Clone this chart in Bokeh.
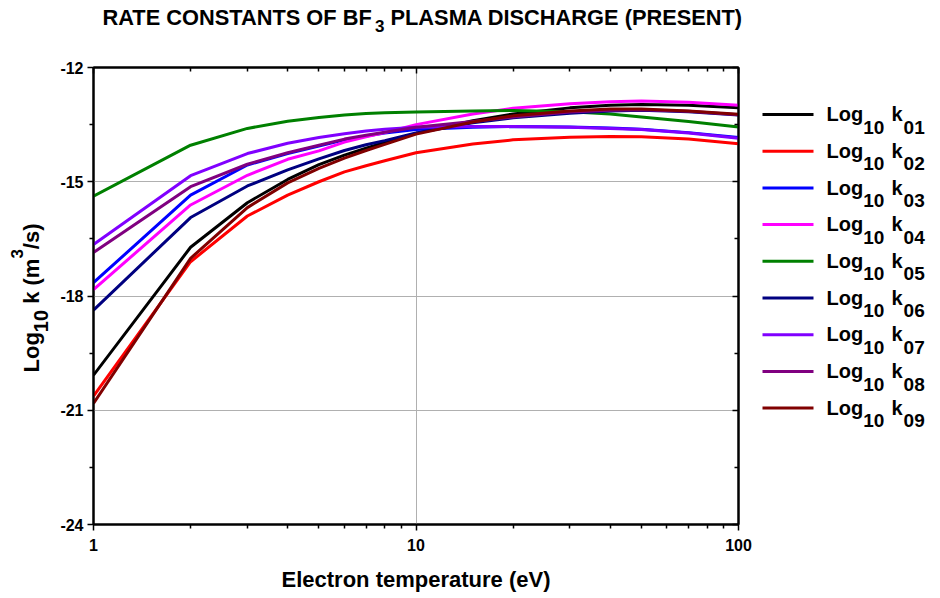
import math
from bokeh.plotting import figure
from bokeh.models import FixedTicker, LogAxis, LinearAxis, Range1d
from bokeh.layouts import column, row
from bokeh.core.properties import value
from bokeh.embed import file_html
from bokeh.resources import INLINE

# ---------------- data ----------------
electron_temperature = [1, 2, 3, 4, 5, 6, 7, 8, 10, 15, 20, 30, 40, 50, 70, 100]

log_k01 = [-20.08, -16.72, -15.55, -14.94, -14.55, -14.30, -14.12, -13.97, -13.73, -13.40, -13.22, -13.06, -12.99, -12.97, -12.99, -13.06]
log_k02 = [-20.63, -17.10, -15.90, -15.35, -15.00, -14.74, -14.58, -14.45, -14.24, -14.01, -13.90, -13.83, -13.81, -13.82, -13.88, -14.00]
log_k03 = [-17.65, -15.35, -14.56, -14.26, -14.06, -13.90, -13.80, -13.72, -13.63, -13.57, -13.55, -13.56, -13.59, -13.62, -13.71, -13.84]
log_k04 = [-17.83, -15.61, -14.83, -14.41, -14.19, -13.96, -13.82, -13.71, -13.50, -13.22, -13.07, -12.95, -12.90, -12.88, -12.91, -12.99]
log_k05 = [-15.38, -14.04, -13.60, -13.41, -13.31, -13.25, -13.21, -13.19, -13.17, -13.14, -13.13, -13.16, -13.22, -13.30, -13.42, -13.56]
log_k06 = [-18.37, -15.94, -15.11, -14.69, -14.40, -14.18, -14.03, -13.92, -13.72, -13.45, -13.32, -13.20, -13.14, -13.12, -13.16, -13.25]
log_k07 = [-16.65, -14.84, -14.26, -13.99, -13.84, -13.74, -13.67, -13.62, -13.57, -13.55, -13.55, -13.57, -13.60, -13.63, -13.72, -13.86]
log_k08 = [-16.86, -15.13, -14.54, -14.24, -14.04, -13.88, -13.78, -13.70, -13.57, -13.42, -13.30, -13.17, -13.12, -13.11, -13.15, -13.24]
log_k09 = [-20.82, -17.01, -15.68, -15.03, -14.65, -14.38, -14.18, -14.02, -13.75, -13.43, -13.27, -13.14, -13.09, -13.09, -13.14, -13.23]

series_ids = ["01", "02", "03", "04", "05", "06", "07", "08", "09"]
series_values = [log_k01, log_k02, log_k03, log_k04, log_k05, log_k06, log_k07, log_k08, log_k09]
series_colors = ["#000000", "#ff0000", "#0000ff", "#ff00ff", "#008000",
                 "#000080", "#8000ff", "#800080", "#800000"]

x_ticks = [1, 10, 100]
x_tick_labels = ["1", "10", "100"]
x_minor_ticks = [2, 3, 4, 5, 6, 7, 8, 9, 20, 30, 40, 50, 60, 70, 80, 90]
y_ticks = [-24, -21, -18, -15, -12]
y_tick_labels = ["-24", "-21", "-18", "-15", "-12"]
y_minor_ticks = [-22.5, -19.5, -16.5, -13.5]

# ---------------- layout (canvas px) ----------------
W, H = 940, 598
TITLE_H = 40          # title strip height
YLAB_W = 50           # y-label strip width
LEG_W = 182           # legend strip width
FL, FT, FR, FB = 93, 67, 738, 524   # chart frame edges on the page
FONT = "Liberation Sans"
BODY_H = H - TITLE_H
MAIN_W = W - YLAB_W - LEG_W
BT, BB = FT - TITLE_H, H - FB        # top / bottom borders shared by the row
MID = 0.35                           # baseline -> text-centre offset (em)


def strip(w, h, xr, yr, bt=0, bb=0):
    f = figure(width=w, height=h, x_range=Range1d(*xr), y_range=Range1d(*yr),
               x_axis_location=None, y_axis_location=None,
               output_backend="svg", toolbar_location=None,
               min_border_left=0, min_border_right=0, min_border_top=bt, min_border_bottom=bb)
    f.outline_line_color = None
    f.grid.visible = False
    f.background_fill_color = "white"
    f.border_fill_color = "white"
    return f


def put(f, txt, x, y, size):
    """horizontal text; (x, y) = start of the baseline in page px"""
    f.text(x=[x], y=[y - MID * size], text=[txt], text_font=value(FONT),
           text_font_style="bold", text_font_size=f"{size}px", text_color="black",
           text_align="left", text_baseline="middle")


def put_up(f, txt, x, y, size):
    """text rotated to read upwards; x = baseline column, y = start"""
    f.text(x=[x - MID * size], y=[y], text=[txt], angle=math.pi / 2, text_font=value(FONT),
           text_font_style="bold", text_font_size=f"{size}px", text_color="black",
           text_align="left", text_baseline="middle")


# ---------------- main chart ----------------
p = figure(width=MAIN_W, height=BODY_H, x_axis_type="log", x_range=(1, 100), y_range=(-24, -12),
           output_backend="svg", toolbar_location=None,
           min_border_left=FL - YLAB_W, min_border_right=W - LEG_W - FR,
           min_border_top=BT, min_border_bottom=BB)
p.background_fill_color = "white"
p.border_fill_color = "white"
p.outline_line_color = "black"
p.outline_line_width = 2

for ax in (p.xaxis[0], p.yaxis[0]):
    ax.axis_line_width = 2
    ax.axis_line_color = "black"
    ax.major_tick_line_width = 1.5
    ax.minor_tick_line_width = 1.5
    ax.major_tick_out = 6
    ax.major_tick_in = 0
    ax.minor_tick_out = 4
    ax.minor_tick_in = 0
    ax.major_label_text_font = FONT
    ax.major_label_text_font_style = "bold"
    ax.major_label_text_font_size = "16px"
    ax.major_label_text_color = "black"

p.xaxis.ticker = FixedTicker(ticks=x_ticks, minor_ticks=x_minor_ticks)
p.xaxis.major_label_overrides = {t: l for t, l in zip(x_ticks, x_tick_labels)}
p.xaxis.major_label_standoff = 8
p.xaxis.axis_label = "Electron temperature (eV)"
p.xaxis.axis_label_text_font = FONT
p.xaxis.axis_label_text_font_style = "bold"
p.xaxis.axis_label_text_font_size = "22px"
p.xaxis.axis_label_text_color = "black"
p.xaxis.axis_label_standoff = 13

p.yaxis.ticker = FixedTicker(ticks=y_ticks, minor_ticks=y_minor_ticks)
p.yaxis.major_label_overrides = {t: l for t, l in zip(y_ticks, y_tick_labels)}
p.yaxis.major_label_standoff = 4

# mirrored axes with inward ticks (labels not drawn)
top_ax = LogAxis(ticker=FixedTicker(ticks=x_ticks, minor_ticks=x_minor_ticks),
                 major_label_text_color=None, major_label_text_font_size="2px",
                 major_label_standoff=0,
                 major_tick_in=6, major_tick_out=0, minor_tick_in=4, minor_tick_out=0,
                 axis_line_width=2, major_tick_line_width=1.5, minor_tick_line_width=1.5)
right_ax = LinearAxis(ticker=FixedTicker(ticks=y_ticks, minor_ticks=y_minor_ticks),
                      major_label_text_color=None, major_label_text_font_size="2px",
                      major_label_standoff=0,
                      major_tick_in=6, major_tick_out=0, minor_tick_in=4, minor_tick_out=0,
                      axis_line_width=2, major_tick_line_width=1.5, minor_tick_line_width=1.5)
p.add_layout(top_ax, "above")
p.add_layout(right_ax, "right")

p.xgrid.grid_line_color = "#b0b0b0"
p.ygrid.grid_line_color = "#b0b0b0"
p.xgrid.grid_line_width = 1
p.ygrid.grid_line_width = 1

for vals, col in zip(series_values, series_colors):
    p.line(electron_temperature, vals, line_color=col, line_width=3)

# ---------------- title strip (data coords = page px) ----------------
t = strip(W, TITLE_H, (0, W), (TITLE_H, 0))
TF, TS = 21.8, 17
tx = 102
put(t, "RATE CONSTANTS OF BF", tx, 25, TF)
tx += 12.5 * TF
put(t, "3", tx, 31, TS)
tx += 0.556 * TS + 0.278 * TF
put(t, "PLASMA DISCHARGE (PRESENT)", tx, 25, TF)

# ---------------- y label strip (data coords = page px) ----------------
yl = strip(YLAB_W, BODY_H, (0, YLAB_W), (FB, FT), BT, BB)
YF, YS, YP = 22, 20, 17
bx = 39
cy = 372
put_up(yl, "Log", bx, cy, YF)
cy -= 1.833 * YF
put_up(yl, "10", bx + 8, cy, YS)
cy -= 1.112 * YS + 0.278 * YF
put_up(yl, "k (m", bx, cy, YF)
cy -= (0.556 + 0.278 + 0.333 + 0.889) * YF
put_up(yl, "3", bx - 17, cy, YP)
cy -= 0.556 * YP
put_up(yl, "/s)", bx, cy, YF)

# ---------------- legend strip ----------------
X0 = W - LEG_W
lg = strip(LEG_W, BODY_H, (X0, W), (FB, FT), BT, BB)
LF, LS = 20, 19
for i, (sid, col) in enumerate(zip(series_ids, series_colors)):
    cy = 114 + i * 36.7
    lg.segment(x0=[762], y0=[cy], x1=[813], y1=[cy], line_color=col, line_width=3)
    put(lg, "Log", 826, cy + 6.7, LF)
    put(lg, "10", 826 + 1.833 * LF, cy + 19.3, LS)
    put(lg, "k", 891, cy + 6.7, LF)
    put(lg, sid, 891 + 0.556 * LF + 1, cy + 19.3, LS)

layout = column(t, row(yl, p, lg, spacing=0), spacing=0)
open("out.html", "w").write(file_html(layout, INLINE))
